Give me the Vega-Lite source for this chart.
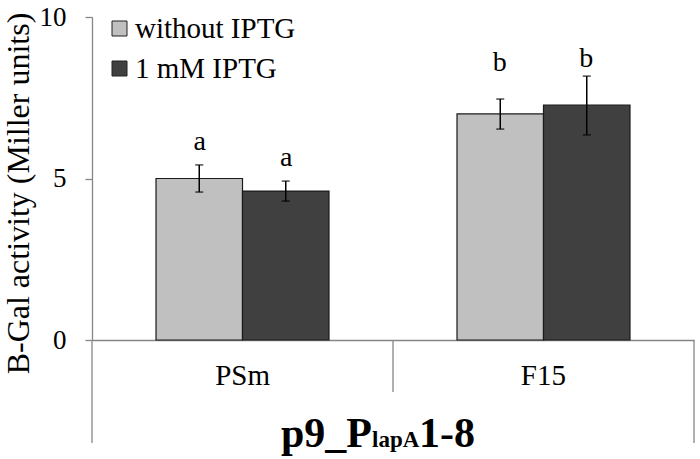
{
  "$schema": "https://vega.github.io/schema/vega-lite/v6.json",
  "width": 602,
  "height": 323,
  "autosize": {"type": "none"},
  "padding": {"left": 92, "top": 17, "right": 6, "bottom": 119},
  "background": "white",
  "config": {
    "view": {"stroke": null},
    "font": "Liberation Serif",
    "axis": {"domainColor": "#868686", "tickColor": "#868686", "labelColor": "black", "titleColor": "black", "grid": false, "labelFont": "Liberation Serif", "titleFont": "Liberation Serif", "domainWidth": 1.3, "tickWidth": 1.3}
  },
  "data": {
    "values": [
      {"strain": "PSm", "treatment": "without IPTG", "activity": 5.0, "lo": 4.58, "hi": 5.42, "letter": "a", "letterY": 5.88},
      {"strain": "PSm", "treatment": "1 mM IPTG", "activity": 4.61, "lo": 4.30, "hi": 4.92, "letter": "a", "letterY": 5.39},
      {"strain": "F15", "treatment": "without IPTG", "activity": 7.0, "lo": 6.53, "hi": 7.46, "letter": "b", "letterY": 8.33},
      {"strain": "F15", "treatment": "1 mM IPTG", "activity": 7.27, "lo": 6.35, "hi": 8.17, "letter": "b", "letterY": 8.45}
    ]
  },
  "encoding": {
    "x": {
      "field": "strain", "type": "nominal", "sort": ["PSm", "F15"],
      "scale": {"paddingInner": 0, "paddingOuter": 0},
      "axis": {"title": null, "ticks": false, "labels": false}
    },
    "xOffset": {
      "field": "treatment", "type": "nominal", "sort": ["without IPTG", "1 mM IPTG"],
      "scale": {"paddingInner": 0, "paddingOuter": 0.74}
    }
  },
  "layer": [
    {
      "mark": {"type": "bar", "stroke": "#1a1a1a", "strokeWidth": 1.2},
      "encoding": {
        "y": {
          "field": "activity", "type": "quantitative",
          "scale": {"domain": [0, 10], "nice": false},
          "axis": {
            "values": [0, 5, 10], "tickSize": 7, "labelPadding": 19, "labelFontSize": 27,
            "title": "B-Gal activity (Miller units)", "titleFontSize": 32, "titleFontWeight": "normal", "titlePadding": 4, "titleY": 176
          }
        },
        "color": {
          "field": "treatment", "type": "nominal",
          "scale": {"domain": ["without IPTG", "1 mM IPTG"], "range": ["#c0c0c0", "#404040"]},
          "legend": {
            "title": null, "orient": "none", "legendX": 13, "legendY": -3,
            "symbolType": "square", "symbolSize": 225, "symbolStrokeColor": "#222", "symbolStrokeWidth": 1,
            "labelFontSize": 29, "labelFont": "Liberation Serif", "labelColor": "black", "labelOffset": 1, "labelLimit": 0, "rowPadding": 10
          }
        }
      }
    },
    {
      "mark": {"type": "rule", "color": "black", "strokeWidth": 1.5},
      "encoding": {
        "y": {"field": "lo", "type": "quantitative"},
        "y2": {"field": "hi"}
      }
    },
    {
      "mark": {"type": "tick", "color": "black", "size": 8, "thickness": 1.5},
      "encoding": {"y": {"field": "lo", "type": "quantitative"}}
    },
    {
      "mark": {"type": "tick", "color": "black", "size": 8, "thickness": 1.5},
      "encoding": {"y": {"field": "hi", "type": "quantitative"}}
    },
    {
      "mark": {"type": "text", "fontSize": 28, "font": "Liberation Serif", "baseline": "alphabetic", "align": "right", "dx": 6.6, "color": "black"},
      "encoding": {
        "y": {"field": "letterY", "type": "quantitative"},
        "text": {"field": "letter"}
      }
    },
    {
      "transform": [{"filter": "datum.treatment === 'without IPTG' && datum.strain === 'PSm'"}],
      "mark": {"type": "text", "fontSize": 29, "font": "Liberation Serif", "baseline": "alphabetic", "align": "right", "dx": 27.5, "color": "black"},
      "encoding": {
        "xOffset": null,
        "y": {"datum": -1.39},
        "text": {"field": "strain"}
      }
    },
    {
      "transform": [{"filter": "datum.treatment === 'without IPTG' && datum.strain === 'F15'"}],
      "mark": {"type": "text", "fontSize": 29, "font": "Liberation Serif", "baseline": "alphabetic", "align": "right", "dx": 22.5, "color": "black"},
      "encoding": {
        "xOffset": null,
        "y": {"datum": -1.39},
        "text": {"field": "strain"}
      }
    },
    {
      "data": {"values": [{"edge": "left"}]},
      "mark": {"type": "rule", "color": "#868686", "strokeWidth": 1.3},
      "encoding": {
        "x": {"datum": "PSm", "bandPosition": 0},
        "xOffset": null,
        "y": {"datum": 0},
        "y2": {"datum": -3.19}
      }
    },
    {
      "data": {"values": [{"edge": "middle"}]},
      "mark": {"type": "rule", "color": "#868686", "strokeWidth": 1.3},
      "encoding": {
        "x": {"datum": "F15", "bandPosition": 0},
        "xOffset": null,
        "y": {"datum": 0},
        "y2": {"datum": -1.61}
      }
    },
    {
      "data": {"values": [{"edge": "right"}]},
      "mark": {"type": "rule", "color": "#868686", "strokeWidth": 1.3},
      "encoding": {
        "x": {"datum": "F15", "bandPosition": 1},
        "xOffset": null,
        "y": {"datum": 0},
        "y2": {"datum": -3.19}
      }
    },
    {
      "data": {"values": [{"part": "main"}]},
      "mark": {"type": "text", "text": "p9_P", "font": "Liberation Serif", "fontSize": 42, "fontWeight": "bold", "align": "right", "baseline": "alphabetic", "dx": -21, "color": "black"},
      "encoding": {
        "x": {"datum": "F15", "bandPosition": 0},
        "xOffset": null,
        "y": {"datum": -3.31}
      }
    },
    {
      "data": {"values": [{"part": "subscript"}]},
      "mark": {"type": "text", "text": "lapA", "font": "Liberation Serif", "fontSize": 23, "fontWeight": "bold", "align": "left", "baseline": "alphabetic", "dx": -21, "color": "black"},
      "encoding": {
        "x": {"datum": "F15", "bandPosition": 0},
        "xOffset": null,
        "y": {"datum": -3.31}
      }
    },
    {
      "data": {"values": [{"part": "suffix"}]},
      "mark": {"type": "text", "text": "1-8", "font": "Liberation Serif", "fontSize": 42, "fontWeight": "bold", "align": "left", "baseline": "alphabetic", "dx": 26, "color": "black"},
      "encoding": {
        "x": {"datum": "F15", "bandPosition": 0},
        "xOffset": null,
        "y": {"datum": -3.31}
      }
    }
  ]
}
